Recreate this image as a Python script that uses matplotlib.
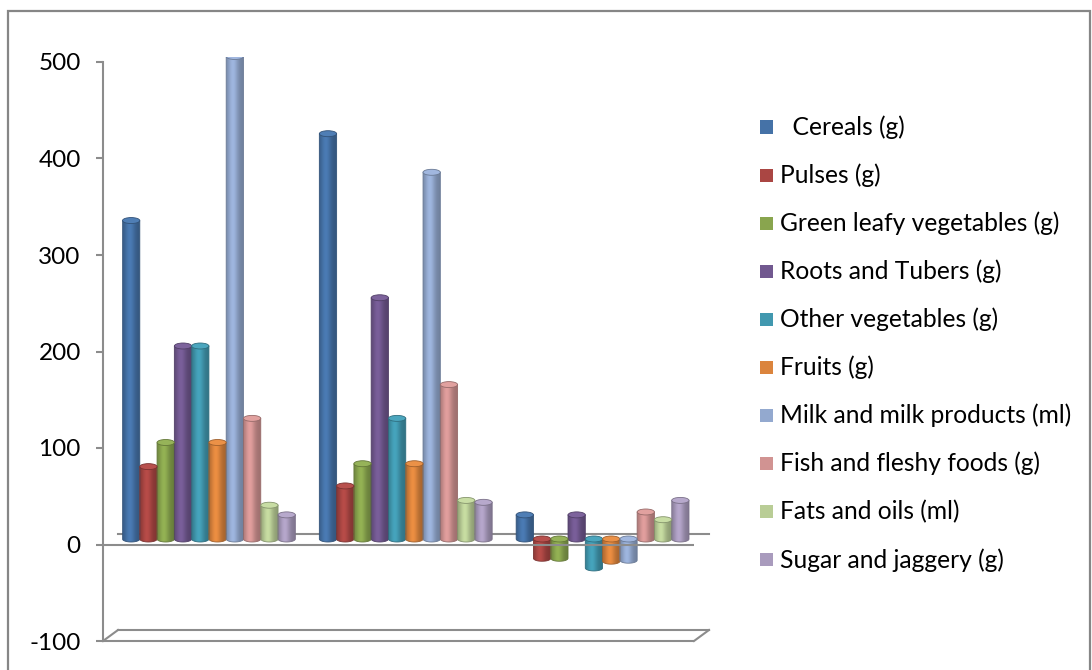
import numpy as np
import matplotlib
matplotlib.use("Agg")
import matplotlib.pyplot as plt
from matplotlib.patches import PathPatch, Ellipse, Rectangle
from matplotlib.path import Path
from matplotlib.lines import Line2D
from matplotlib.transforms import offset_copy
from matplotlib.colors import to_rgb

plt.rcParams["font.family"] = ["Lato", "DejaVu Sans"]
plt.rcParams["axes.unicode_minus"] = False

# ---- data -------------------------------------------------------------
groups = ["1", "2", "3"]
series = [
    "  Cereals (g)",
    "Pulses (g)",
    "Green leafy vegetables (g)",
    "Roots and Tubers (g)",
    "Other vegetables (g)",
    "Fruits (g)",
    "Milk and milk products (ml)",
    "Fish and fleshy foods (g)",
    "Fats and oils (ml)",
    "Sugar and jaggery (g)",
]
cereals = [330, 420, 25]
pulses = [75, 55, -20]
green_leafy = [100, 78, -20]
roots_tubers = [200, 250, 25]
other_veg = [200, 125, -30]
fruits = [100, 78, -23]
milk = [500, 380, -22]
fish = [125, 160, 28]
fats_oils = [35, 40, 20]
sugar = [25, 38, 40]
values = [cereals, pulses, green_leafy, roots_tubers, other_veg,
          fruits, milk, fish, fats_oils, sugar]
colors = ["#4572A7", "#AA4643", "#89A54E", "#71588F", "#4198AF",
          "#DB843D", "#93A9CF", "#D19392", "#B9CD96", "#A99BBD"]
yticks = [-100, 0, 100, 200, 300, 400, 500]

# ---- figure -----------------------------------------------------------
W, H = 1092, 670
fig = plt.figure(figsize=(W / 100, H / 100), dpi=100)
fig.patch.set_facecolor("white")
GRAY = "#8C8C8C"


def px_box(left, top, right, bottom):
    return [left / W, 1 - bottom / H, (right - left) / W, (bottom - top) / H]


# outer chart border
fig.add_artist(Rectangle((8 / W, -0.02), (1090 - 8) / W, 1.02 - 11 / H,
                         transform=fig.transFigure, fill=False,
                         edgecolor="#868686", lw=1.6))

# front frame (value axis and floor)
ax_front = fig.add_axes(px_box(103, 62, 694, 641))
ax_front.set_xlim(0, 1)
ax_front.set_ylim(-100, 500)
ax_front.patch.set_alpha(0)
ax_front.set_zorder(3)
for s in ["top", "right", "bottom"]:
    ax_front.spines[s].set_visible(False)
ax_front.spines["left"].set_color(GRAY)
ax_front.spines["left"].set_linewidth(1.5)
ax_front.set_xticks([])
ax_front.set_yticks(yticks)
ax_front.tick_params(axis="y", direction="out", length=5, width=1.5,
                     color=GRAY, labelsize=17.5, labelcolor="black", pad=11)

# bars sit at mid depth of the 3-D box
ax = fig.add_axes(px_box(110.5, 56.5, 701, 635.5))
ax.set_xlim(-0.5, 2.5)
ax.set_ylim(-100, 500)
ax.patch.set_alpha(0)
ax.set_zorder(2)
ax.axis("off")

# floor and zero plane: front edges and depth-shifted back edges
depth_dx, depth_dy = 15, 11
back = offset_copy(ax_front.transData, fig=fig, x=depth_dx, y=depth_dy,
                   units="dots")
for y in (0, -100):
    ax_front.plot([0, 1], [y, y], color=GRAY, lw=1.5, clip_on=False,
                  solid_capstyle="butt")
    ax.add_line(Line2D([0, 1], [y, y], transform=back, color=GRAY, lw=1.5,
                       clip_on=False, zorder=0))
fig.canvas.draw()
for xf in (0, 1):
    p = ax_front.transData.transform((xf, -100))
    q = p + np.array([depth_dx, depth_dy])
    ax.add_line(Line2D([p[0], q[0]], [p[1], q[1]], transform=None,
                       color=GRAY, lw=1.5, clip_on=False, zorder=0))

# ---- cylinders --------------------------------------------------------
n = len(series)
bw = 0.878 / n
cap_h = 6.2
prof = np.linspace(0, 1, 64)
shade = 0.76 + 0.32 * np.exp(-((prof - 0.38) / 0.3) ** 2)


def cylinder(xc, v, color, z):
    base = np.array(to_rgb(color))
    x0, x1 = xc - bw / 2, xc + bw / 2
    top, bot = max(v, 0), min(v, 0)
    t = np.linspace(0, np.pi, 40)
    arc_x = xc - (bw / 2) * np.cos(t)
    arc_y = bot - (cap_h / 2) * np.sin(t)
    verts = [(x0, top)] + list(zip(arc_x, arc_y)) + [(x1, top), (x0, top)]
    path = Path(verts, closed=True)
    outline = PathPatch(path, transform=ax.transData, facecolor="none",
                        edgecolor=base * 0.72, lw=0.6, zorder=z + 0.1)
    ax.add_patch(outline)
    img = np.clip(base[None, None, :] * shade[None, :, None], 0, 1)
    im = ax.imshow(img, extent=(x0, x1, bot - cap_h / 2, top),
                   aspect="auto", interpolation="bilinear", zorder=z)
    im.set_clip_path(outline)
    cap_col = np.clip(base * 1.04 + 0.03, 0, 1)
    ax.add_patch(Ellipse((xc, top), bw, cap_h, facecolor=cap_col,
                         edgecolor=base * 0.72, lw=0.6, zorder=z + 0.2))


for gi in range(len(groups)):
    for si in range(n):
        xc = gi - 0.439 + bw * (si + 0.5)
        cylinder(xc, values[si][gi], colors[si], 1 + si * 0.01 + gi)

ax.set_xlim(-0.5, 2.5)
ax.set_ylim(-100, 500)

# ---- legend -----------------------------------------------------------
for i, (name, c) in enumerate(zip(series, colors)):
    yc = 127 + 48.1 * i
    fig.add_artist(Rectangle((760 / W, 1 - (yc + 6.5) / H), 13 / W, 13 / H,
                             transform=fig.transFigure, facecolor=c,
                             edgecolor="none"))
    fig.text(780 / W, 1 - yc / H, name, fontsize=17.7, va="center",
             ha="left", color="black")

fig.savefig("out.png", dpi=100)
